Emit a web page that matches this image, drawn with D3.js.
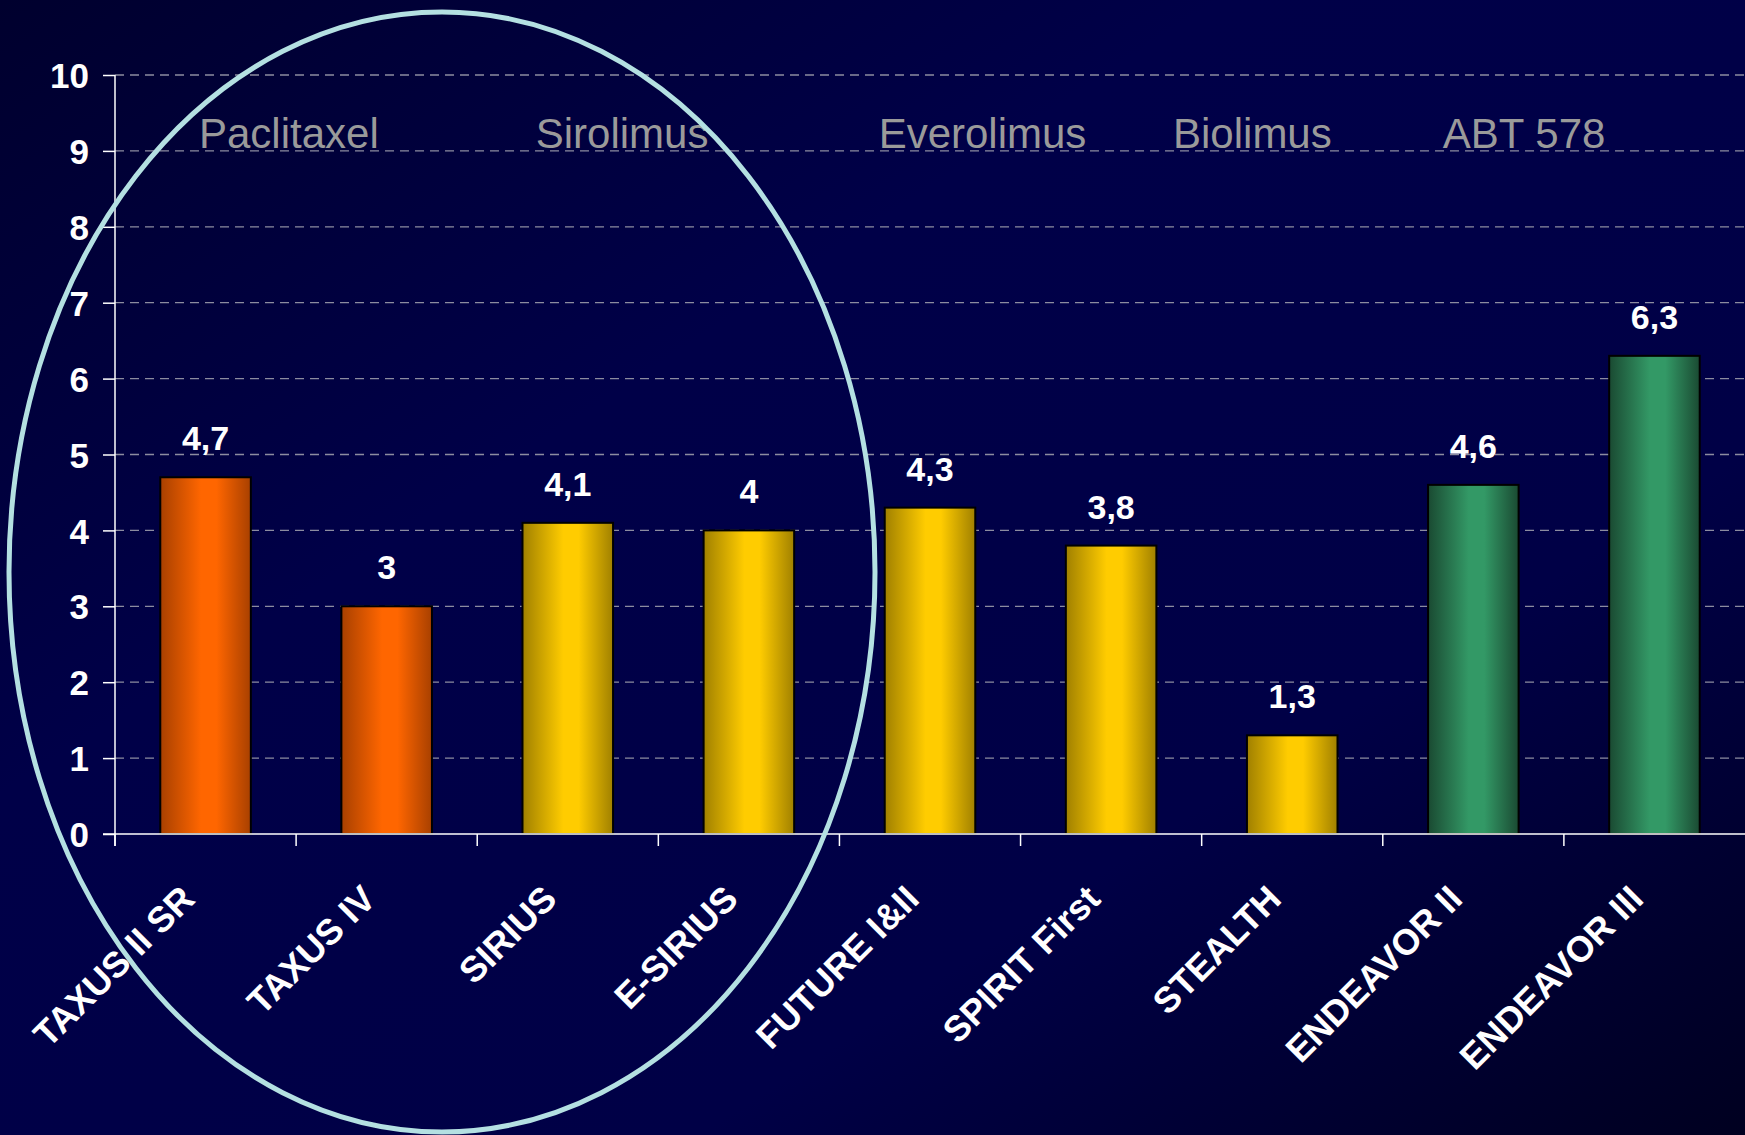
<!DOCTYPE html>
<html>
<head>
<meta charset="utf-8">
<script src="https://cdn.jsdelivr.net/npm/d3@7"></script>
<style>
  html, body { margin: 0; padding: 0; background: #000040; overflow: hidden; }
  svg { display: block; }
</style>
</head>
<body>
<div id="chart"></div>
<script>
const trials = ["TAXUS II SR", "TAXUS IV", "SIRIUS", "E-SIRIUS", "FUTURE I&II",
                "SPIRIT First", "STEALTH", "ENDEAVOR II", "ENDEAVOR III"];
const values = [4.7, 3, 4.1, 4, 4.3, 3.8, 1.3, 4.6, 6.3];
const drugOfTrial = ["Paclitaxel", "Paclitaxel", "Sirolimus", "Sirolimus", "Everolimus",
                     "Everolimus", "Biolimus", "ABT 578", "ABT 578"];
const drugs = ["Paclitaxel", "Sirolimus", "Everolimus", "Biolimus", "ABT 578"];
// centre of each drug heading, in category steps from the y axis
const drugPos = [0.96, 2.8, 4.79, 6.28, 7.78];
const yTicks = [0, 1, 2, 3, 4, 5, 6, 7, 8, 9, 10];

const width = 1745, height = 1135;
const margin = { top: 75, right: 0, bottom: 301, left: 115 };
const font = "Arial, 'Liberation Sans', Helvetica, sans-serif";

const svg = d3.select("#chart").append("svg")
    .attr("width", width)
    .attr("height", height);

const defs = svg.append("defs");

const bg = defs.append("linearGradient")
    .attr("id", "bg").attr("x1", "0%").attr("y1", "0%").attr("x2", "100%").attr("y2", "100%");
bg.append("stop").attr("offset", "0%").attr("stop-color", "#00002e");
bg.append("stop").attr("offset", "35%").attr("stop-color", "#000048");
bg.append("stop").attr("offset", "70%").attr("stop-color", "#000046");
bg.append("stop").attr("offset", "100%").attr("stop-color", "#000020");

// cylinder-like shading for the bars
const barColors = {
  Paclitaxel: ["#a84000", "#ff6600"],
  Sirolimus: ["#a08000", "#ffcc00"],
  Everolimus: ["#a08000", "#ffcc00"],
  Biolimus: ["#a08000", "#ffcc00"],
  "ABT 578": ["#1a4a32", "#339966"]
};
Object.entries(barColors).forEach(([name, c], i) => {
  const g = defs.append("linearGradient")
      .attr("id", "bar" + i).attr("x1", "0%").attr("x2", "100%").attr("y1", "0%").attr("y2", "0%");
  g.append("stop").attr("offset", "0%").attr("stop-color", c[0]);
  g.append("stop").attr("offset", "45%").attr("stop-color", c[1]);
  g.append("stop").attr("offset", "62%").attr("stop-color", c[1]);
  g.append("stop").attr("offset", "100%").attr("stop-color", c[0]);
});
const gradId = d => "url(#bar" + Object.keys(barColors).indexOf(d) + ")";

svg.append("rect").attr("width", width).attr("height", height).attr("fill", "url(#bg)");

const x = d3.scaleBand()
    .domain(trials)
    .range([margin.left, width - margin.right])
    .paddingInner(0.5)
    .paddingOuter(0.25);

const y = d3.scaleLinear()
    .domain([0, 10])
    .range([height - margin.bottom, margin.top]);

// dashed grid
svg.append("g")
    .selectAll("line")
    .data(yTicks.filter(d => d > 0))
    .join("line")
    .attr("x1", margin.left)
    .attr("x2", width)
    .attr("y1", d => y(d))
    .attr("y2", d => y(d))
    .attr("stroke", "#8c8ca0")
    .attr("stroke-width", 1.3)
    .attr("stroke-dasharray", "9,6");

// drug headings
svg.append("g")
    .selectAll("text")
    .data(drugs)
    .join("text")
    .attr("x", (d, i) => margin.left + x.step() * drugPos[i])
    .attr("y", 148)
    .attr("text-anchor", "middle")
    .attr("fill", "#9a9a9a")
    .style("font", `42px ${font}`)
    .text(d => d);

// bars
svg.append("g")
    .selectAll("rect")
    .data(trials)
    .join("rect")
    .attr("x", d => x(d))
    .attr("y", (d, i) => y(values[i]))
    .attr("width", x.bandwidth())
    .attr("height", (d, i) => y(0) - y(values[i]))
    .attr("fill", (d, i) => gradId(drugOfTrial[i]))
    .attr("stroke", "#000")
    .attr("stroke-width", 2);

const fmt = d3.formatLocale({ decimal: ",", thousands: ".", grouping: [3], currency: ["", ""] }).format("~g");

// value labels
svg.append("g")
    .selectAll("text")
    .data(trials)
    .join("text")
    .attr("x", d => x(d) + x.bandwidth() / 2)
    .attr("y", (d, i) => y(values[i]) - 27)
    .attr("text-anchor", "middle")
    .attr("fill", "#fff")
    .style("font", `bold 34px ${font}`)
    .text((d, i) => fmt(values[i]));

// y axis
const yAxis = svg.append("g")
    .attr("transform", `translate(${margin.left},0)`)
    .call(d3.axisLeft(y).tickValues(yTicks).tickSize(12).tickPadding(14).tickFormat(d3.format("d")));
yAxis.select(".domain").attr("stroke", "#fff").attr("stroke-width", 1.5)
    .attr("d", `M0,${y(10)}V${y(0) + 12}`);
yAxis.selectAll(".tick line").attr("stroke", "#fff").attr("stroke-width", 1.5);
yAxis.selectAll(".tick text")
    .attr("fill", "#fff")
    .attr("dy", "0.36em")
    .style("font", `bold 35px ${font}`);

// x axis: ticks sit between categories
const xAxis = svg.append("g").attr("transform", `translate(0,${y(0)})`);
xAxis.append("line")
    .attr("x1", margin.left - 12).attr("x2", width)
    .attr("stroke", "#fff").attr("stroke-width", 1.5);
xAxis.selectAll(".sep")
    .data(trials)
    .join("line")
    .attr("class", "sep")
    .attr("x1", d => x(d) - x.step() * x.paddingInner() / 2)
    .attr("x2", d => x(d) - x.step() * x.paddingInner() / 2)
    .attr("y1", 0).attr("y2", 12)
    .attr("stroke", "#fff").attr("stroke-width", 1.5);

xAxis.selectAll(".lbl")
    .data(trials)
    .join("text")
    .attr("class", "lbl")
    .attr("transform", d => `translate(${x(d) + x.bandwidth() / 2 - 9},67) rotate(-45)`)
    .attr("text-anchor", "end")
    .attr("fill", "#fff")
    .style("font", `bold 36px ${font}`)
    .text(d => d);

// highlight ellipse round the first four trials
svg.append("ellipse")
    .attr("cx", 442)
    .attr("cy", 572)
    .attr("rx", 433)
    .attr("ry", 560)
    .attr("fill", "none")
    .attr("stroke", "#b4e0e2")
    .attr("stroke-width", 5);
</script>
</body>
</html>
